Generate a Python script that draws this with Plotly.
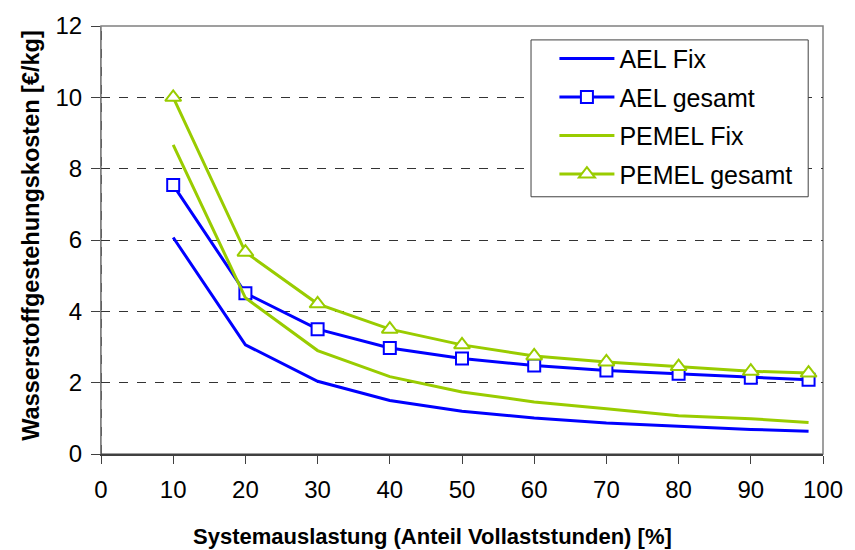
import plotly.graph_objects as go

auslastung = [10, 20, 30, 40, 50, 60, 70, 80, 90, 98]
ael_fix = [6.07, 3.06, 2.04, 1.50, 1.20, 1.01, 0.87, 0.78, 0.69, 0.64]
ael_gesamt = [7.54, 4.51, 3.50, 2.97, 2.68, 2.48, 2.34, 2.25, 2.14, 2.08]
pemel_fix = [8.67, 4.38, 2.90, 2.17, 1.74, 1.46, 1.27, 1.07, 0.99, 0.88]
pemel_gesamt = [10.0, 5.66, 4.21, 3.50, 3.06, 2.75, 2.58, 2.45, 2.32, 2.27]

x_title = "Systemauslastung (Anteil Vollaststunden) [%]"
y_title = "Wasserstoffgestehungskosten [€/kg]"

blue = "#0000FF"
green = "#99CC00"

fig = go.Figure()
fig.add_trace(go.Scatter(x=auslastung, y=ael_fix, name="AEL Fix", mode="lines",
                         line=dict(color=blue, width=3), legendgroup="a"))
fig.add_trace(go.Scatter(x=auslastung, y=ael_gesamt, name="AEL gesamt", mode="lines+markers",
                         line=dict(color=blue, width=3), legendgroup="b",
                         marker=dict(symbol="square", size=12, color="white",
                                     line=dict(color=blue, width=2))))
fig.add_trace(go.Scatter(x=auslastung, y=pemel_fix, name="PEMEL Fix", mode="lines",
                         line=dict(color=green, width=3), legendgroup="c"))
fig.add_trace(go.Scatter(x=auslastung, y=pemel_gesamt, name="PEMEL gesamt", mode="lines+markers",
                         line=dict(color=green, width=3), legendgroup="d",
                         marker=dict(symbol="triangle-up", size=14, color="white",
                                     line=dict(color=green, width=2))))

fig.update_layout(
    width=855, height=550,
    margin=dict(l=101, r=22, t=23, b=96),
    paper_bgcolor="white", plot_bgcolor="white",
    font=dict(family="Liberation Sans, Arial, sans-serif", size=24, color="black"),
    legend=dict(x=0.628, y=0.977, xanchor="left", yanchor="top",
                borderwidth=0, bgcolor="rgba(0,0,0,0)",
                traceorder="grouped", tracegroupgap=3, itemwidth=55,
                font=dict(size=25)),
    xaxis=dict(range=[0, 100], dtick=10, tick0=0, showgrid=False,
               showline=True, linecolor="#404040", linewidth=1.5, mirror=False,
               ticks="outside", ticklen=8, tickcolor="#404040",
               ticklabelstandoff=5,
               tickfont=dict(size=24)),
    yaxis=dict(range=[0, 12], dtick=2, tick0=0, showgrid=True,
               gridcolor="#333333", griddash="dash", gridwidth=1,
               showline=True, linecolor="#808080", linewidth=1,
               ticks="outside", ticklen=9, tickcolor="#404040",
               ticklabelstandoff=4,
               tickfont=dict(size=24),
               zeroline=False),
    annotations=[
        dict(text="<b>" + x_title + "</b>", xref="paper", yref="paper",
             x=0.459, y=-0.1926, xanchor="center", yanchor="middle",
             showarrow=False, font=dict(size=22)),
        dict(text="<b>" + y_title + "</b>", xref="paper", yref="paper",
             x=-0.097, y=0.51, xanchor="center", yanchor="middle", textangle=-90,
             showarrow=False, font=dict(size=23.5)),
    ],
)
# plot frame (top/right border)
fig.add_shape(type="rect", xref="paper", yref="paper", x0=0, y0=0, x1=1, y1=1,
              line=dict(color="#808080", width=1.5), layer="below")
# dashed gridline on the left edge of the plot
fig.add_shape(type="line", xref="paper", yref="paper", x0=0, x1=0, y0=0, y1=1,
              line=dict(color="#222222", width=1, dash="dash"), layer="below")
# legend box
fig.add_shape(type="rect", xref="paper", yref="paper",
              x0=0.5956, x1=0.9795, y0=0.601, y1=0.9675,
              line=dict(color="#404040", width=1), fillcolor="white", layer="above")

fig.write_html("out.html")
